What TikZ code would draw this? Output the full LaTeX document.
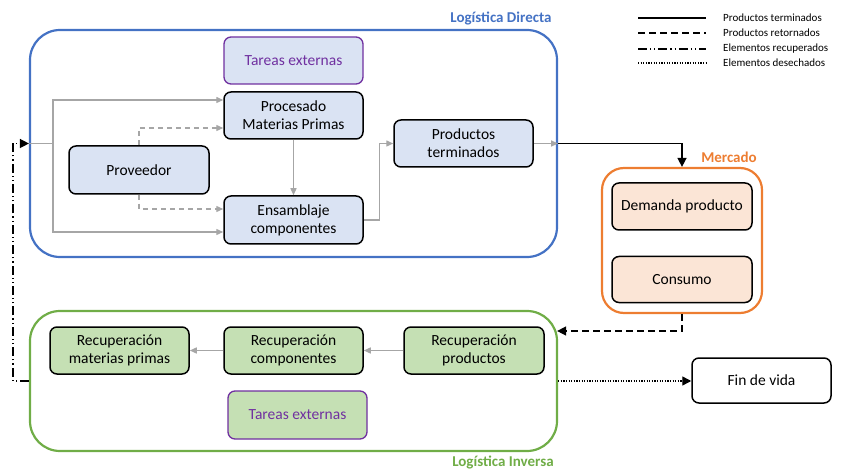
\documentclass[tikz,border=0pt]{standalone}
\usepackage{fontspec}
\setmainfont{Carlito}
\usetikzlibrary{arrows.meta}
\definecolor{ldblue}{HTML}{4472C4}
\definecolor{mkorange}{HTML}{ED7D31}
\definecolor{ligreen}{HTML}{70AD47}
\definecolor{extpurple}{HTML}{7030A0}
\definecolor{fillblue}{HTML}{DAE3F3}
\definecolor{fillorange}{HTML}{FBE5D6}
\definecolor{fillgreen}{HTML}{C5E0B4}
\definecolor{flowgray}{HTML}{A6A6A6}
\tikzset{
  container/.style={draw, line width=2.2pt, rounded corners=30pt, inner sep=0pt},
  stage/.style={draw=black, line width=1.5pt, rounded corners=7pt, align=center,
    inner sep=2pt, font=\fontsize{15.5}{18}\selectfont, text=black},
  external/.style={stage, draw=extpurple, text=extpurple, line width=1.3pt},
  title/.style={font=\fontsize{15}{18}\selectfont\bfseries},
  flow/.style={draw=flowgray, line width=1.4pt, -{Triangle[length=7pt,width=6pt]}},
  flowret/.style={flow, dashed, dash pattern=on 5pt off 4pt},
  finished/.style={draw=black, line width=1.4pt, -{Triangle[length=9pt,width=9pt]}},
  returned/.style={finished, dash pattern=on 7pt off 4pt},
  recovered/.style={finished, dash pattern=on 9pt off 3pt on 1.2pt off 3pt on 1.2pt off 3pt},
  discarded/.style={finished, dash pattern=on 1.2pt off 1.4pt},
  legendline/.style={draw=black, line width=1.4pt},
  legendtext/.style={anchor=west, font=\fontsize{11}{13}\selectfont, inner sep=0pt},
}
\begin{document}
\begin{tikzpicture}[x=1pt, y=-1pt]
\useasboundingbox (0,0) rectangle (843,470);

% containers
\node[container, draw=ldblue, minimum width=527pt, minimum height=227pt] (dir) at (293.5,143.5) {};
\node[container, draw=mkorange, minimum width=160pt, minimum height=145pt, rounded corners=22pt] (merc) at (682,240.5) {};
\node[container, draw=ligreen, minimum width=527pt, minimum height=140pt] (inv) at (293.5,381) {};

\node[title, text=ldblue] (tdir) at (501,19) {Logística Directa};
\node[title, text=mkorange] (tmerc) at (729,157) {Mercado};
\node[title, text=ligreen] (tinv) at (503,462) {Logística Inversa};

% forward logistics stages
\node[external, fill=fillblue, minimum width=139pt, minimum height=47pt] (extA) at (293.5,60.5) {Tareas externas};
\node[stage, fill=fillblue, minimum width=139pt, minimum height=47pt] (proc) at (293.5,115.5) {Procesado\\Materias Primas};
\node[stage, fill=fillblue, minimum width=140pt, minimum height=48pt] (prov) at (139,170) {Proveedor};
\node[stage, fill=fillblue, minimum width=139pt, minimum height=48pt] (ens) at (293.5,220) {Ensamblaje\\componentes};
\node[stage, fill=fillblue, minimum width=139pt, minimum height=47pt] (prodt) at (463.5,143.5) {Productos\\terminados};

% market
\node[stage, fill=fillorange, minimum width=140pt, minimum height=47pt] (dem) at (682,206.5) {Demanda producto};
\node[stage, fill=fillorange, minimum width=140pt, minimum height=46pt] (cons) at (682,279.5) {Consumo};

% reverse logistics stages
\node[stage, fill=fillgreen, minimum width=139pt, minimum height=47pt] (rmp) at (119.5,350.5) {Recuperación\\materias primas};
\node[stage, fill=fillgreen, minimum width=139pt, minimum height=47pt] (rco) at (293.5,350.5) {Recuperación\\componentes};
\node[stage, fill=fillgreen, minimum width=140pt, minimum height=47pt] (rpr) at (474,350.5) {Recuperación\\productos};
\node[external, fill=fillgreen, minimum width=139pt, minimum height=48pt] (extB) at (297.5,415) {Tareas externas};

\node[stage, fill=white, minimum width=139pt, minimum height=45pt] (fin) at (761.5,380.5) {Fin de vida};

% forward flows
\coordinate (split) at (53,143.5);
\draw[draw=flowgray, line width=1.4pt] (dir.west) -- (split);
\draw[flow] (split) |- ([yshift=15.5pt]proc.west);
\draw[flow] (split) |- ([yshift=-12pt]ens.west);
\draw[flowret] (prov.north) |- ([yshift=-12.5pt]proc.west);
\draw[flowret] (prov.south) |- ([yshift=11pt]ens.west);
\draw[flow] (proc.south) -- (ens.north);
\draw[flow] (ens.east) -- ++(16,0) |- (prodt.west);
\draw[flow] (prodt.east) -- (dir.east);

% between areas
\draw[finished] (dir.east) -| (merc.north);
\draw[returned] (merc.south) |- ([yshift=50pt,xshift=-1pt]inv.east);
\draw[discarded] (inv.east) -- (fin.west |- inv.east);
\draw[recovered] (inv.west) -- ++(-16,0) |- (dir.west);

% reverse flows
\draw[flow] (rpr.west) -- (rco.east);
\draw[flow] (rco.west) -- (rmp.east);

% legend
\coordinate (l1a) at (638,18); \coordinate (l1b) at (706,18);
\coordinate (l2a) at (638,33); \coordinate (l2b) at (706,33);
\coordinate (l3a) at (638,49); \coordinate (l3b) at (706,49);
\coordinate (l4a) at (638,63); \coordinate (l4b) at (706,63);
\draw[legendline] (l1a) -- (l1b);
\draw[legendline, dash pattern=on 7pt off 4pt] (l2a) -- (l2b);
\draw[legendline, dash pattern=on 9pt off 3pt on 1.2pt off 3pt on 1.2pt off 3pt] (l3a) -- (l3b);
\draw[legendline, line width=1.2pt, dash pattern=on 1.2pt off 1.4pt] (l4a) -- (l4b);
\node[legendtext] (lt1) at (723,18) {Productos terminados};
\node[legendtext] (lt2) at (723,33) {Productos retornados};
\node[legendtext] (lt3) at (723,49) {Elementos recuperados};
\node[legendtext] (lt4) at (723,63) {Elementos desechados};
\end{tikzpicture}
\end{document}
